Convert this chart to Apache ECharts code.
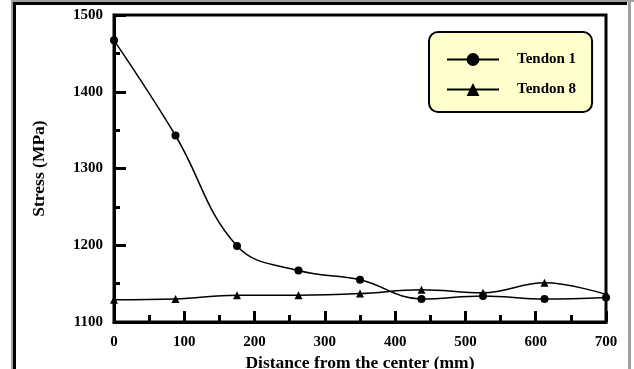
<!DOCTYPE html>
<html>
<head>
<meta charset="utf-8">
<script src="https://cdn.jsdelivr.net/npm/echarts@6/dist/echarts.min.js"></script>
<style>
  html, body { margin: 0; padding: 0; background: #fff; }
  #chart { width: 634px; height: 369px; }
</style>
</head>
<body>
<div id="chart"></div>
<script>
// 数据
const distance = [0, 87.5, 175, 262.5, 350, 437.5, 525, 612.5, 700]
const tendon1 = [1467, 1343, 1199, 1167, 1155, 1130, 1134, 1130, 1132]
const tendon8 = [1129, 1130, 1135, 1135, 1137, 1142, 1138, 1151, 1136]
const seriesNames = ['Tendon 1', 'Tendon 8']

const font = 'Liberation Serif'

function pairs (ys) {
  return distance.map(function (x, i) { return [x, ys[i]] })
}

const chart = echarts.init(document.getElementById('chart'))

const option = {
  animation: false,
  backgroundColor: '#fff',
  grid: {
    left: 114,
    right: 28,
    top: 15,
    bottom: 47,
    outerBoundsMode: 'none',
    show: true,
    borderColor: '#000',
    borderWidth: 3,
    backgroundColor: '#fff'
  },
  legend: {
    data: seriesNames,
    orient: 'vertical',
    left: 429,
    top: 32,
    width: 130,
    padding: [20, 16, 15, 17],
    itemGap: 15,
    itemWidth: 52,
    itemHeight: 16,
    backgroundColor: '#ffffcc',
    borderColor: '#000',
    borderWidth: 2,
    borderRadius: 9,
    textStyle: {
      fontFamily: font,
      fontWeight: 'bold',
      fontSize: 15,
      color: '#000',
      padding: [0, 0, 0, 13]
    }
  },
  // 外框
  graphic: [
    { type: 'polyline', shape: { points: [[12, 380], [12, 1], [634, 1]] }, style: { stroke: '#a0a0a0', lineWidth: 2, fill: null } },
    { type: 'polyline', shape: { points: [[14.5, 380], [14.5, 3.5], [627, 3.5]] }, style: { stroke: '#000', lineWidth: 3, fill: null } },
    { type: 'line', shape: { x1: 629.5, y1: 2, x2: 629.5, y2: 380 }, style: { stroke: '#a0a0a0', lineWidth: 3 } }
  ],
  xAxis: {
    type: 'value',
    min: 0,
    max: 700,
    interval: 100,
    name: 'Distance from the center (mm)',
    nameLocation: 'middle',
    nameGap: 17,
    nameTextStyle: { fontFamily: font, fontWeight: 'bold', fontSize: 17.5, color: '#000' },
    axisLine: { lineStyle: { color: '#000', width: 3 } },
    axisTick: { inside: true, length: 11, lineStyle: { color: '#000', width: 3 } },
    minorTick: { show: true, splitNumber: 2, length: 7, lineStyle: { color: '#000', width: 3 } },
    axisLabel: {
      fontFamily: font, fontWeight: 'bold', fontSize: 15, color: '#000', margin: 13,
      formatter: function (v) { return String(v) }
    },
    splitLine: { show: false }
  },
  yAxis: {
    type: 'value',
    min: 1100,
    max: 1500,
    interval: 100,
    name: 'Stress (MPa)',
    nameLocation: 'middle',
    nameGap: 66,
    nameTextStyle: { fontFamily: font, fontWeight: 'bold', fontSize: 17.5, color: '#000' },
    axisLine: { lineStyle: { color: '#000', width: 3 } },
    axisTick: { inside: true, length: 12, lineStyle: { color: '#000', width: 3 } },
    minorTick: { show: true, splitNumber: 2, length: 6, lineStyle: { color: '#000', width: 3 } },
    axisLabel: {
      fontFamily: font, fontWeight: 'bold', fontSize: 15, color: '#000', margin: 11,
      formatter: function (v) { return String(v) }
    },
    splitLine: { show: false }
  },
  series: [
    {
      name: seriesNames[0],
      type: 'line',
      smooth: 0.4,
      symbol: 'circle',
      symbolSize: 8,
      itemStyle: { color: '#000' },
      lineStyle: { color: '#000', width: 1.5 },
      data: pairs(tendon1)
    },
    {
      name: seriesNames[1],
      type: 'line',
      smooth: 0.4,
      symbol: 'triangle',
      symbolSize: 8,
      itemStyle: { color: '#000' },
      lineStyle: { color: '#000', width: 1.5 },
      data: pairs(tendon8)
    }
  ]
}

chart.setOption(option)
</script>
</body>
</html>
